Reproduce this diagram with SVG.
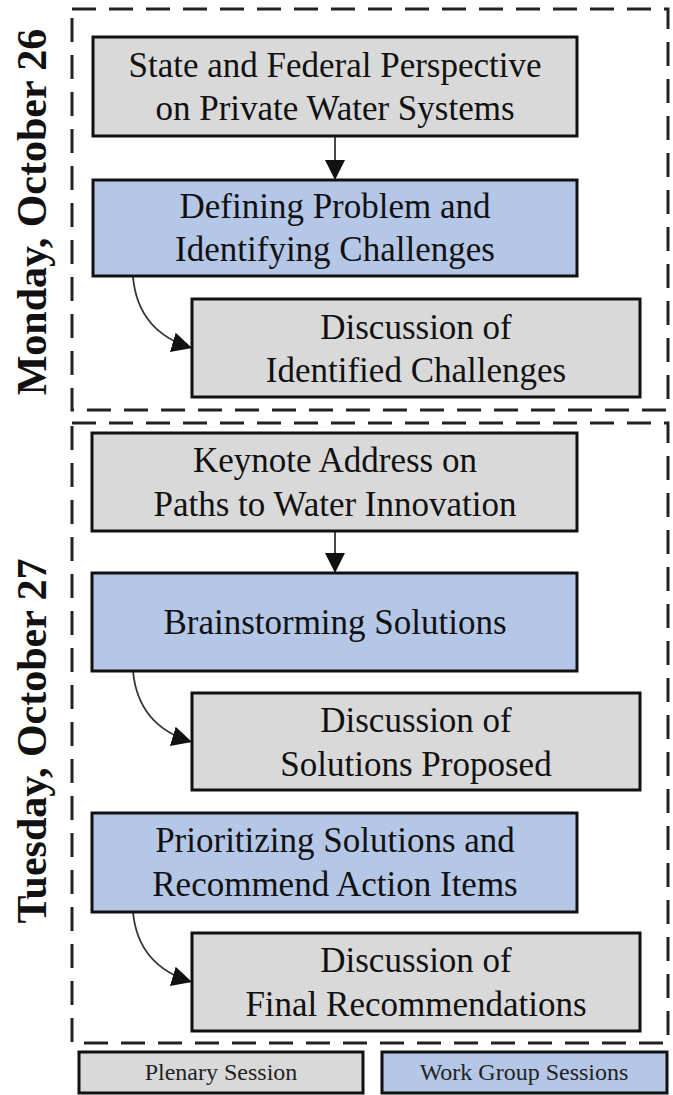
<svg xmlns="http://www.w3.org/2000/svg" width="673" height="1095" viewBox="0 0 673 1095">
<defs>
<style>
.frame{fill:none;stroke:#222;stroke-width:3;stroke-dasharray:24 13}
.gray{fill:#d9d9d9;stroke:#111;stroke-width:3}
.blue{fill:#b4c7e7;stroke:#111;stroke-width:3}
.t{font-family:"Liberation Serif","Times New Roman",serif;font-size:35px;fill:#111;text-anchor:middle}
.lg{font-family:"Liberation Serif","Times New Roman",serif;font-size:24px;fill:#222;text-anchor:middle}
.day{font-family:"Liberation Serif","Times New Roman",serif;font-size:42px;font-weight:bold;fill:#111;text-anchor:middle}
.conn{fill:none;stroke:#333;stroke-width:1.8}
</style>
<marker id="ah" markerUnits="userSpaceOnUse" markerWidth="20" markerHeight="20" viewBox="0 0 20 20" refX="20" refY="10" orient="auto">
<path d="M0,0 L20,10 L0,20 z" fill="#111"/>
</marker>
</defs>
<rect width="673" height="1095" fill="#fff"/>
<g id="day-frames">
<rect class="frame" x="72" y="9" width="596" height="401"/>
<rect class="frame" x="72" y="423" width="596" height="620"/>
<text class="day" transform="translate(46,212) rotate(-90)">Monday, October 26</text>
<text class="day" transform="translate(46,741) rotate(-90)">Tuesday, October 27</text>
</g>
<g id="connectors">
<path class="conn" d="M335,136 L335,180" marker-end="url(#ah)"/>
<path class="conn" d="M133,277 Q138,332 192,348" marker-end="url(#ah)"/>
<path class="conn" d="M335,531 L335,573" marker-end="url(#ah)"/>
<path class="conn" d="M133,671 Q138,726 192,742" marker-end="url(#ah)"/>
<path class="conn" d="M133,912 Q138,966 192,982" marker-end="url(#ah)"/>
</g>
<g id="n1"><rect class="gray" x="93" y="37" width="484" height="99"/>
<text class="t" x="335" y="77">State and Federal Perspective</text><text class="t" x="335" y="120">on Private Water Systems</text></g>
<g id="n2"><rect class="blue" x="93" y="180" width="484" height="96"/>
<text class="t" x="335" y="218">Defining Problem and</text><text class="t" x="335" y="261">Identifying Challenges</text></g>
<g id="n3"><rect class="gray" x="192" y="299" width="448" height="98"/>
<text class="t" x="416" y="339">Discussion of</text><text class="t" x="416" y="382">Identified Challenges</text></g>
<g id="n4"><rect class="gray" x="92" y="433" width="485" height="98"/>
<text class="t" x="335" y="472">Keynote Address on</text><text class="t" x="335" y="516">Paths to Water Innovation</text></g>
<g id="n5"><rect class="blue" x="92" y="573" width="485" height="98"/>
<text class="t" x="335" y="634">Brainstorming Solutions</text></g>
<g id="n6"><rect class="gray" x="192" y="693" width="448" height="97"/>
<text class="t" x="416" y="732">Discussion of</text><text class="t" x="416" y="776">Solutions Proposed</text></g>
<g id="n7"><rect class="blue" x="92" y="813" width="485" height="99"/>
<text class="t" x="335" y="852">Prioritizing Solutions and</text><text class="t" x="335" y="896">Recommend Action Items</text></g>
<g id="n8"><rect class="gray" x="192" y="933" width="448" height="98"/>
<text class="t" x="416" y="972">Discussion of</text><text class="t" x="416" y="1016">Final Recommendations</text></g>
<g id="legend">
<rect class="gray" x="79" y="1052" width="284" height="41" stroke-width="2.5"/>
<text class="lg" x="221" y="1080">Plenary Session</text>
<rect class="blue" x="382" y="1052" width="285" height="41" stroke-width="2.5"/>
<text class="lg" x="524" y="1080">Work Group Sessions</text>
</g>
</svg>
